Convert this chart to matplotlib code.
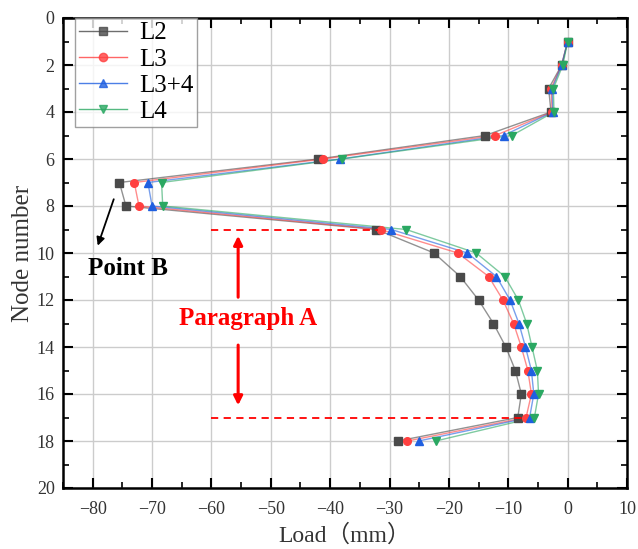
import matplotlib
matplotlib.use("Agg")
import matplotlib.pyplot as plt
import numpy as np

nodes = list(range(1, 19))
L2 = [0, -1.0, -3.2, -2.8, -13.9, -42.0, -75.5, -74.4, -32.2, -22.5, -18.1, -15.0, -12.5, -10.4, -8.8, -7.8, -8.4, -28.6]
L3 = [0, -1.0, -2.8, -2.6, -12.2, -41.2, -73.0, -72.2, -31.5, -18.5, -13.3, -10.9, -9.1, -7.8, -6.7, -6.1, -7.0, -27.0]
L34 = [0, -1.0, -2.6, -2.5, -10.8, -38.3, -70.7, -70.0, -29.7, -16.9, -12.0, -9.7, -8.2, -7.1, -6.1, -5.7, -6.4, -25.1]
L4 = [0, -0.8, -2.4, -2.3, -9.4, -38.0, -68.4, -68.2, -27.2, -15.4, -10.6, -8.3, -6.9, -6.0, -5.1, -4.9, -5.6, -22.2]

series = [("L2", L2, "#4a4a4a", "s"), ("L3", L3, "#ff4040", "o"),
          ("L3+4", L34, "#1f5fe0", "^"), ("L4", L4, "#2aa862", "v")]

plt.rcParams['font.family'] = ['Liberation Serif', 'Noto Sans CJK SC']
fig = plt.figure(figsize=(6.38, 5.49), dpi=100)
ax = fig.add_axes([63/638, 1-488/549, (627-63)/638, (488-18)/549])

for name, vals, col, mk in series:
    ax.plot(vals, nodes, color=col, lw=1.0, alpha=0.6, zorder=3)
    ax.plot(vals, nodes, ls='none', marker=mk, ms=5.5, color=col, mec=col, zorder=4)
    ax.plot([], [], color=col, lw=1.0, alpha=0.8, marker=mk, ms=6, mec=col, label=name)

ax.set_xlim(-85, 10)
ax.set_ylim(20, 0)
ax.set_xticks(np.arange(-80, 11, 10))
ax.set_yticks(np.arange(0, 21, 2))
ax.set_xticks(np.arange(-85, 11, 5), minor=True)
ax.set_yticks(np.arange(0, 21, 1), minor=True)
ax.set_xticklabels([("\u2212%d" % -v) if v < 0 else "%d" % v for v in range(-80, 11, 10)])
ax.tick_params(which='both', direction='in', top=True, right=True, labelsize=13, colors='black')
ax.tick_params(which='major', length=7, width=1.5)
ax.tick_params(which='minor', length=4, width=1.2)
ax.tick_params(axis='x', which='major', pad=9)
ax.tick_params(axis='y', which='major', pad=6)
for s in ax.spines.values():
    s.set_linewidth(1.8)
ax.grid(True, which='major', color='#cccccc', lw=1.0, zorder=0)
for lab in ax.get_xticklabels() + ax.get_yticklabels():
    lab.set_color('#333333')

ax.set_xlabel("Load（mm）", fontsize=17, color='#333333', labelpad=5)
ax.set_ylabel("Node number", fontsize=18, color='#333333', labelpad=2)

leg = ax.legend(loc='upper left', bbox_to_anchor=(0.022, 1.0), fontsize=18, frameon=True,
                fancybox=False, edgecolor='#888888', handlelength=1.9, borderpad=0.15,
                labelspacing=0.15, handletextpad=0.5, borderaxespad=0.0)
leg.get_frame().set_linewidth(1.0)

# Annotations
ax.plot([-60, -32], [9, 9], color='red', ls=(0, (4, 3)), lw=1.3, zorder=5)
ax.plot([-60, -7], [17, 17], color='red', ls=(0, (4, 3)), lw=1.3, zorder=5)
ax.annotate("", xy=(-55.5, 9.15), xytext=(-55.5, 12.0),
            arrowprops=dict(arrowstyle='-|>', color='red', lw=2.2, mutation_scale=13))
ax.annotate("", xy=(-55.5, 16.6), xytext=(-55.5, 13.8),
            arrowprops=dict(arrowstyle='-|>', color='red', lw=2.2, mutation_scale=13))
ax.text(-53.8, 12.8, "Paragraph A", color='red', fontsize=18, fontweight='bold',
        ha='center', va='center')
ax.annotate("", xy=(-79.3, 9.8), xytext=(-76.3, 7.6),
            arrowprops=dict(arrowstyle='-|>', color='black', lw=1.3, mutation_scale=12))
ax.text(-74, 10.65, "Point B", color='black', fontsize=18, fontweight='bold',
        ha='center', va='center')

fig.savefig("out.png", dpi=100)
